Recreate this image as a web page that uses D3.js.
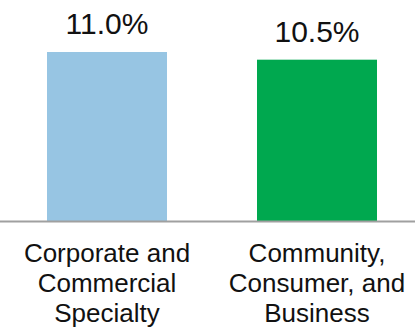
<!DOCTYPE html>
<html>
<head>
<meta charset="utf-8">
<script src="https://d3js.org/d3.v7.min.js"></script>
<style>
  html, body { margin: 0; padding: 0; background: #fff; }
  svg { display: block; }
</style>
</head>
<body>
<div id="chart"></div>
<script>
// chart data
var categories = [
  ["Corporate and", "Commercial", "Specialty"],
  ["Community,", "Consumer, and", "Business"]
];
var values = [11.0, 10.5];
var valueLabels = ["11.0%", "10.5%"];
var barColors = ["#97C5E3", "#00A84F"];

var width = 415, height = 328;
var baseY = 221;

var svg = d3.select("#chart").append("svg")
    .attr("width", width)
    .attr("height", height);

// set the ranges
var x_scale = d3.scaleBand()
    .domain(d3.range(values.length))
    .range([2, 422])
    .paddingInner(0.4286)
    .paddingOuter(0.2143);

var y_scale = d3.scaleLinear()
    .domain([0, 11])
    .range([baseY, 52]);

// bars
svg.selectAll("rect.bar")
    .data(values)
  .enter().append("rect")
    .attr("class", "bar")
    .attr("x", function(d, i) { return x_scale(i); })
    .attr("width", x_scale.bandwidth())
    .attr("y", function(d) { return y_scale(d); })
    .attr("height", function(d) { return y_scale(0) - y_scale(d); })
    .attr("fill", function(d, i) { return barColors[i]; });

// baseline
svg.append("line")
    .attr("x1", 0)
    .attr("x2", width)
    .attr("y1", baseY + 0.5)
    .attr("y2", baseY + 0.5)
    .attr("stroke", "#A0A0A0")
    .attr("stroke-width", 2);

// value labels
svg.selectAll("text.val")
    .data(values)
  .enter().append("text")
    .attr("class", "val")
    .attr("x", function(d, i) { return x_scale(i) + x_scale.bandwidth() / 2; })
    .attr("y", function(d) { return y_scale(d) - 18; })
    .attr("text-anchor", "middle")
    .style("font-family", "'Liberation Sans', Arial, sans-serif")
    .style("font-size", "30px")
    .style("fill", "#111")
    .text(function(d, i) { return valueLabels[i]; });

// category labels
var cat = svg.selectAll("text.cat")
    .data(categories)
  .enter().append("text")
    .attr("class", "cat")
    .attr("text-anchor", "middle")
    .style("font-family", "'Liberation Sans', Arial, sans-serif")
    .style("font-size", "26px")
    .style("fill", "#111");

cat.each(function(lines, i) {
  var cx = x_scale(i) + x_scale.bandwidth() / 2;
  d3.select(this).selectAll("tspan")
      .data(lines)
    .enter().append("tspan")
      .attr("x", cx)
      .attr("y", function(d, j) { return 262 + j * 30; })
      .text(function(d) { return d; });
});
</script>
</body>
</html>
